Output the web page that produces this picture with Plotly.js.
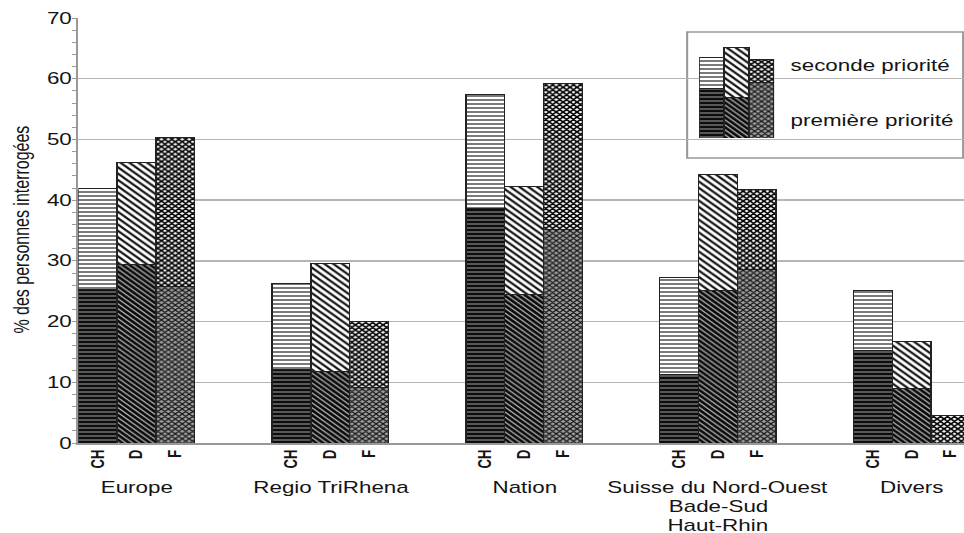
<!DOCTYPE html>
<html>
<head>
<meta charset="utf-8">
<script src="https://cdn.plot.ly/plotly-3.0.1.min.js"></script>
<style>
html,body{margin:0;padding:0;background:#fff;overflow:hidden;}
#wrap{width:964px;height:533px;overflow:hidden;}
#chart{width:689px;height:533px;transform:scaleX(1.39913);transform-origin:0 0;}
</style>
</head>
<body>
<div id="wrap"><div id="chart"></div></div>
<script>
// ---- data ----
const groups = ["Europe", "Regio TriRhena", "Nation", "Suisse du Nord-Ouest<br>Bade-Sud<br>Haut-Rhin", "Divers"];
const countries = ["CH", "D", "F"];
const firstCH  = [25.3, 12.1, 38.7, 11.3, 15.3];
const secondCH = [16.6, 14.2, 18.7, 15.9, 9.9];
const firstD   = [29.4, 11.7, 24.5, 25.2, 9.0];
const secondD  = [16.8, 17.9, 17.8, 19.1, 7.7];
const firstF   = [25.8, 9.1, 35.1, 28.6, 0];
const secondF  = [24.5, 10.9, 24.1, 13.2, 4.6];
// legend icon (mini bars)
const legendFirst  = [50, 41, 56];
const legendSecond = [31, 50, 23];
const legendLabels = ["seconde priorité", "première priorité"];
const yTitle = "% des personnes interrogées";
const yTicks = [0, 10, 20, 30, 40, 50, 60, 70];

// ---- layout helpers ----
const slot = 5; // 3 bars + 2 empty slots per group
function pos(countryIdx) { return groups.map((g, i) => i * slot + countryIdx); }

const patFirst = [
  {shape: "-",  bgcolor: "#0d0d0d", fgcolor: "#8a8a8a", size: 4, solidity: 0.3},
  {shape: "\\", bgcolor: "#0a0a0a", fgcolor: "#c0c0c0", size: 3.5, solidity: 0.3},
  {shape: "x",  bgcolor: "#a0a0a0", fgcolor: "#111", size: 3.5, solidity: 0.5}
];
const patSecond = [
  {shape: "-",  bgcolor: "#fff", fgcolor: "#222", size: 4, solidity: 0.3},
  {shape: "\\", bgcolor: "#fff", fgcolor: "#111", size: 4.5, solidity: 0.42},
  {shape: "x",  bgcolor: "#fff", fgcolor: "#000", size: 3.5, solidity: 0.65}
];
const firsts = [firstCH, firstD, firstF];
const seconds = [secondCH, secondD, secondF];

const traces = [];
countries.forEach((c, k) => {
  traces.push({type: "bar", x: pos(k), y: firsts[k], width: 1, name: c + " 1",
    marker: {color: patFirst[k].bgcolor, pattern: patFirst[k], line: {color: "#222", width: 1}},
    showlegend: false, hoverinfo: "skip"});
});
countries.forEach((c, k) => {
  traces.push({type: "bar", x: pos(k), y: seconds[k], width: 1, name: c + " 2",
    marker: {color: "#fff", pattern: patSecond[k], line: {color: "#222", width: 1}},
    showlegend: false, hoverinfo: "skip"});
});
// legend icon traces
countries.forEach((c, k) => {
  traces.push({type: "bar", x: [k], y: [legendFirst[k]], width: 1, xaxis: "x2", yaxis: "y2",
    marker: {color: patFirst[k].bgcolor, pattern: patFirst[k], line: {color: "#222", width: 1}},
    showlegend: false, hoverinfo: "skip"});
});
countries.forEach((c, k) => {
  traces.push({type: "bar", x: [k], y: [legendSecond[k]], width: 1, xaxis: "x2", yaxis: "y2",
    marker: {color: "#fff", pattern: patSecond[k], line: {color: "#222", width: 1}},
    showlegend: false, hoverinfo: "skip"});
});

const tickvals = [], ticktext = [];
groups.forEach((g, i) => countries.forEach((c, k) => { tickvals.push(i * slot + k); ticktext.push(c); }));

const font = "Liberation Sans, Arial, sans-serif";
const txtColor = "#141414";
const plotTop = 18, plotBottom = 443, plotH = plotBottom - plotTop;
function py(pix) { return (plotBottom - pix) / plotH; }

const annotations = [];
groups.forEach((g, i) => {
  g.split("<br>").forEach((line, j) => {
    annotations.push({text: line, x: i * slot + 1, xref: "x", y: py(487 + 19 * j), yref: "paper",
      xanchor: "center", yanchor: "middle", showarrow: false,
      font: {family: font, size: 16, color: txtColor}});
  });
});
annotations.push({text: legendLabels[0], x: 0.801, y: py(65), xref: "paper", yref: "paper",
  xanchor: "left", yanchor: "middle", showarrow: false, font: {family: font, size: 16, color: txtColor}});
annotations.push({text: legendLabels[1], x: 0.801, y: py(120), xref: "paper", yref: "paper",
  xanchor: "left", yanchor: "middle", showarrow: false, font: {family: font, size: 16, color: txtColor}});
annotations.push({text: yTitle, x: -0.0637, y: py(230), xref: "paper", yref: "paper", textangle: -90,
  xanchor: "center", yanchor: "middle", showarrow: false, font: {family: font, size: 16, color: txtColor}});

const layout = {
  width: 689, height: 533,
  margin: {l: 56, r: 0, t: plotTop, b: 533 - plotBottom},
  paper_bgcolor: "#fff", plot_bgcolor: "#fff",
  barmode: "stack", bargap: 0,
  showlegend: false,
  font: {family: font, color: txtColor},
  xaxis: {
    range: [-0.5, 22.35], tickvals: tickvals, ticktext: ticktext, tickangle: -90,
    tickfont: {family: font, size: 13, color: txtColor, weight: "bold"}, showgrid: false, zeroline: false,
    showline: true, linecolor: "#999", linewidth: 1.5, ticks: "", fixedrange: true
  },
  yaxis: {
    range: [0, 70], tickvals: yTicks, ticks: "", showline: true, linecolor: "#999", linewidth: 1.5,
    gridcolor: "#b5b5b5", gridwidth: 1.5, zeroline: false,
    tickfont: {family: font, size: 16, color: txtColor},
    minor: {dtick: 2, ticks: "outside", ticklen: 3, tickcolor: "#999", showgrid: false},
    fixedrange: true
  },
  xaxis2: {domain: [0.701, 0.7856], range: [-0.5, 2.5], visible: false, fixedrange: true, anchor: "y2"},
  yaxis2: {domain: [py(138), py(47)], range: [0, 91], visible: false, fixedrange: true, anchor: "x2"},
  shapes: [{type: "rect", xref: "paper", yref: "paper", x0: 0.6874, x1: 0.999, y0: py(158), y1: py(32),
    fillcolor: "#fff", line: {color: "#999", width: 1.5}, layer: "between"}],
  annotations: annotations
};

Plotly.newPlot("chart", traces, layout, {displayModeBar: false, staticPlot: true});
</script>
</body>
</html>
